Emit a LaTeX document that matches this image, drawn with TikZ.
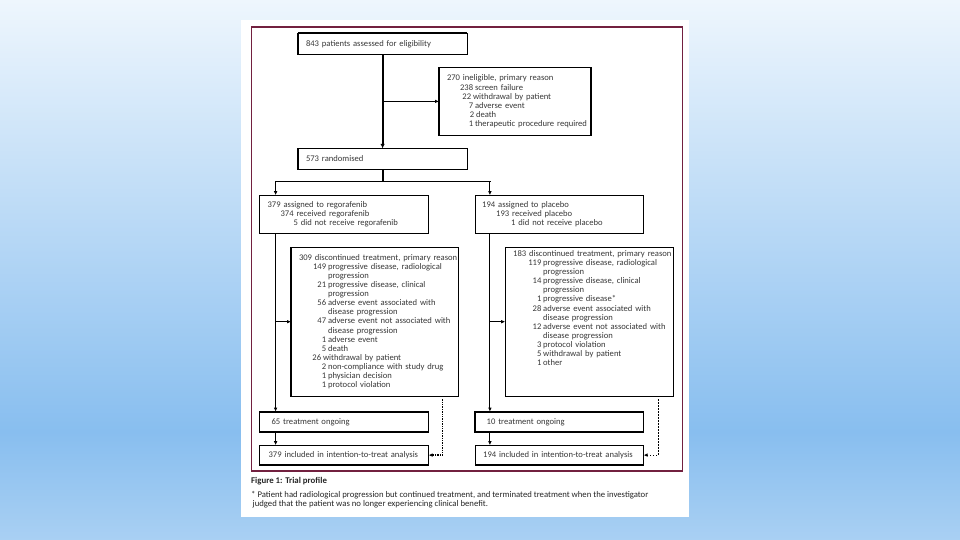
\documentclass[tikz,border=0pt]{standalone}
\usepackage{fontspec}
\setmainfont{Carlito}
\usetikzlibrary{arrows.meta,calc}
\definecolor{maroon}{HTML}{72203F}
\definecolor{txt}{HTML}{383838}
\definecolor{bgtop}{HTML}{EEF6FD}
\definecolor{bgdeep}{HTML}{88BEEF}
\definecolor{bgbot}{HTML}{A9D0F3}
\pgfdeclareverticalshading{bgshade}{100bp}{color(0bp)=(bgbot); color(25bp)=(bgbot); color(35bp)=(bgdeep); color(75bp)=(bgtop); color(100bp)=(bgtop)}
\newcommand{\ttl}[2]{\hspace*{#1pt}\mbox{#2}}
\newcommand{\itm}[3]{\hspace*{#1pt}\llap{#2\hspace{1.8pt}}\mbox{#3}}
\begin{document}
\begin{tikzpicture}[x=1pt,y=-1pt,
  bx/.style={draw=black, line width=1.1pt, inner sep=0pt, outer sep=0pt, anchor=north west, align=left, text=txt, font=\fontsize{8.6}{9.12}\selectfont},
  sz/.style 2 args={minimum width=#1pt, text width=#1pt, minimum height=#2pt},
  heavy/.style={line width=1.5pt},
  trunk/.style={line width=1.9pt, draw=black},
  arr/.style={line width=0.9pt, -{Latex[length=4pt,width=3.6pt]}},
  dotsA/.style={line width=1.4pt, dash pattern=on 1.4pt off 1pt, -{Latex[length=4pt,width=3.6pt]}},
  dotsB/.style={line width=0.8pt, dash pattern=on 1.5pt off 1.5pt, -{Latex[length=4pt,width=3.6pt]}},
  captxt/.style={anchor=base west, inner sep=0pt, text=black!85}]
\useasboundingbox (0,0) rectangle (960,540);
\shade[shading=bgshade] (0,0) rectangle (960,540);
\fill[white] (241,20) rectangle (689,517);
\draw[maroon, line width=1.5pt] (251.7,27) rectangle (682.7,471);

% boxes
\node[bx, sz={169.2}{21}] (elig) at (298,33.4) {\ttl{8}{843 patients assessed for eligibility}};
\node[bx, heavy, sz={152}{68}] (inel) at (439,67.4) {\ttl{8}{270 ineligible, primary reason}\\
\itm{36}{238}{screen failure}\\
\itm{34}{22}{withdrawal by patient}\\
\itm{36}{7}{adverse event}\\
\itm{37}{2}{death}\\
\itm{36}{1}{therapeutic procedure required}};
\node[bx, sz={169.2}{21}] (rand) at (298,148.4) {\ttl{8}{573 randomised}};
\node[bx, sz={169}{38.5}] (reg) at (259.6,195.2) {\ttl{8}{379 assigned to regorafenib}\\
\ttl{21}{374 received regorafenib}\\
\ttl{34}{5 did not receive regorafenib}};
\node[bx, sz={168.4}{38.5}] (plc) at (475.2,195.2) {\ttl{7}{194 assigned to placebo}\\
\ttl{21}{193 received placebo}\\
\ttl{36}{1 did not receive placebo}};
\node[bx, sz={167.7}{149}] (dreg) at (291,247.2) {\ttl{8}{309 discontinued treatment, primary reason}\\
\itm{37}{149}{progressive disease, radiological}\\
\ttl{37}{progression}\\
\itm{37}{21}{progressive disease, clinical}\\
\ttl{37}{progression}\\
\itm{37}{56}{adverse event associated with}\\
\ttl{37}{disease progression}\\
\itm{37}{47}{adverse event not associated with}\\
\ttl{37}{disease progression}\\
\itm{37}{1}{adverse event}\\
\itm{37}{5}{death}\\
\itm{32}{26}{withdrawal by patient}\\
\itm{37}{2}{non-compliance with study drug}\\
\itm{37}{1}{physician decision}\\
\itm{37}{1}{protocol violation}};
\node[bx, sz={168.6}{149}] (dplc) at (505.2,247.2) {\ttl{8}{183 discontinued treatment, primary reason}\\
\itm{38}{119}{progressive disease, radiological}\\
\ttl{38}{progression}\\
\itm{38}{14}{progressive disease, clinical}\\
\ttl{38}{progression}\\
\itm{38}{1}{progressive disease*}\\
\itm{38}{28}{adverse event associated with}\\
\ttl{38}{disease progression}\\
\itm{38}{12}{adverse event not associated with}\\
\ttl{38}{disease progression}\\
\itm{38}{3}{protocol violation}\\
\itm{38}{5}{withdrawal by patient}\\
\itm{38}{1}{other}\\
\mbox{}\\
\mbox{}\\
\mbox{}};
\node[bx, heavy, sz={169}{20.6}] (oreg) at (259.6,411.6) {\ttl{12}{65 treatment ongoing}};
\node[bx, heavy, sz={168.4}{20.6}] (oplc) at (475.2,411.6) {\ttl{11.5}{10 treatment ongoing}};
\node[bx, sz={169}{19.8}] (ireg) at (259.6,445.2) {\ttl{9}{379 included in intention-to-treat analysis}};
\node[bx, sz={168.4}{19.8}] (iplc) at (475.2,445.2) {\ttl{8}{194 included in intention-to-treat analysis}};

% thick top edges
\draw[line width=2.2pt] (elig.north west) -- (elig.north east);
\draw[line width=2.2pt] (oreg.north west) -- (oreg.north east);
\draw[line width=2.2pt] (oplc.north west) -- (oplc.north east);

% connectors
\coordinate (jL) at (275.6,181.5);
\coordinate (jR) at (489.9,181.5);
\coordinate (dLx) at (442.6,400);
\coordinate (dRx) at (658.3,400);
\draw[trunk, -{Latex[length=4.5pt,width=4.5pt]}] (elig.south) -- (rand.north);
\draw[arr] (elig.south |- inel.west) -- (inel.west);
\draw[trunk] (rand.south) -- (rand.south |- jL);
\draw[trunk, line cap=rect] (jL) -- (jR);
\draw[arr] (jL) -- (reg.north -| jL);
\draw[arr] (jR) -- (plc.north -| jR);
\draw[arr] (reg.south -| jL) -- (oreg.north -| jL);
\draw[arr] (plc.south -| jR) -- (oplc.north -| jR);
\draw[arr] (dreg.west -| jL) -- (dreg.west);
\draw[arr] (dplc.west -| jR) -- (dplc.west);
\draw[arr] (oreg.south -| jL) -- (ireg.north -| jL);
\draw[arr] (oplc.south -| jR) -- (iplc.north -| jR);
\draw[dotsA] ($(dreg.south -| dLx)+(0,3)$) |- (ireg.east);
\draw[dotsB] ($(dplc.south -| dRx)+(0,3)$) |- (iplc.east);

% caption
\node[captxt, font=\fontsize{8.8}{10}\selectfont\bfseries] (figcap) at (251,483.5) {Figure 1: Trial profile};
\node[captxt, font=\fontsize{8.7}{10}\selectfont] (fn1) at (251,497) {* Patient had radiological progression but continued treatment, and terminated treatment when the investigator};
\node[captxt, font=\fontsize{8.7}{10}\selectfont] (fn2) at (252.5,506.3) {judged that the patient was no longer experiencing clinical benefit.};
\end{tikzpicture}
\end{document}
